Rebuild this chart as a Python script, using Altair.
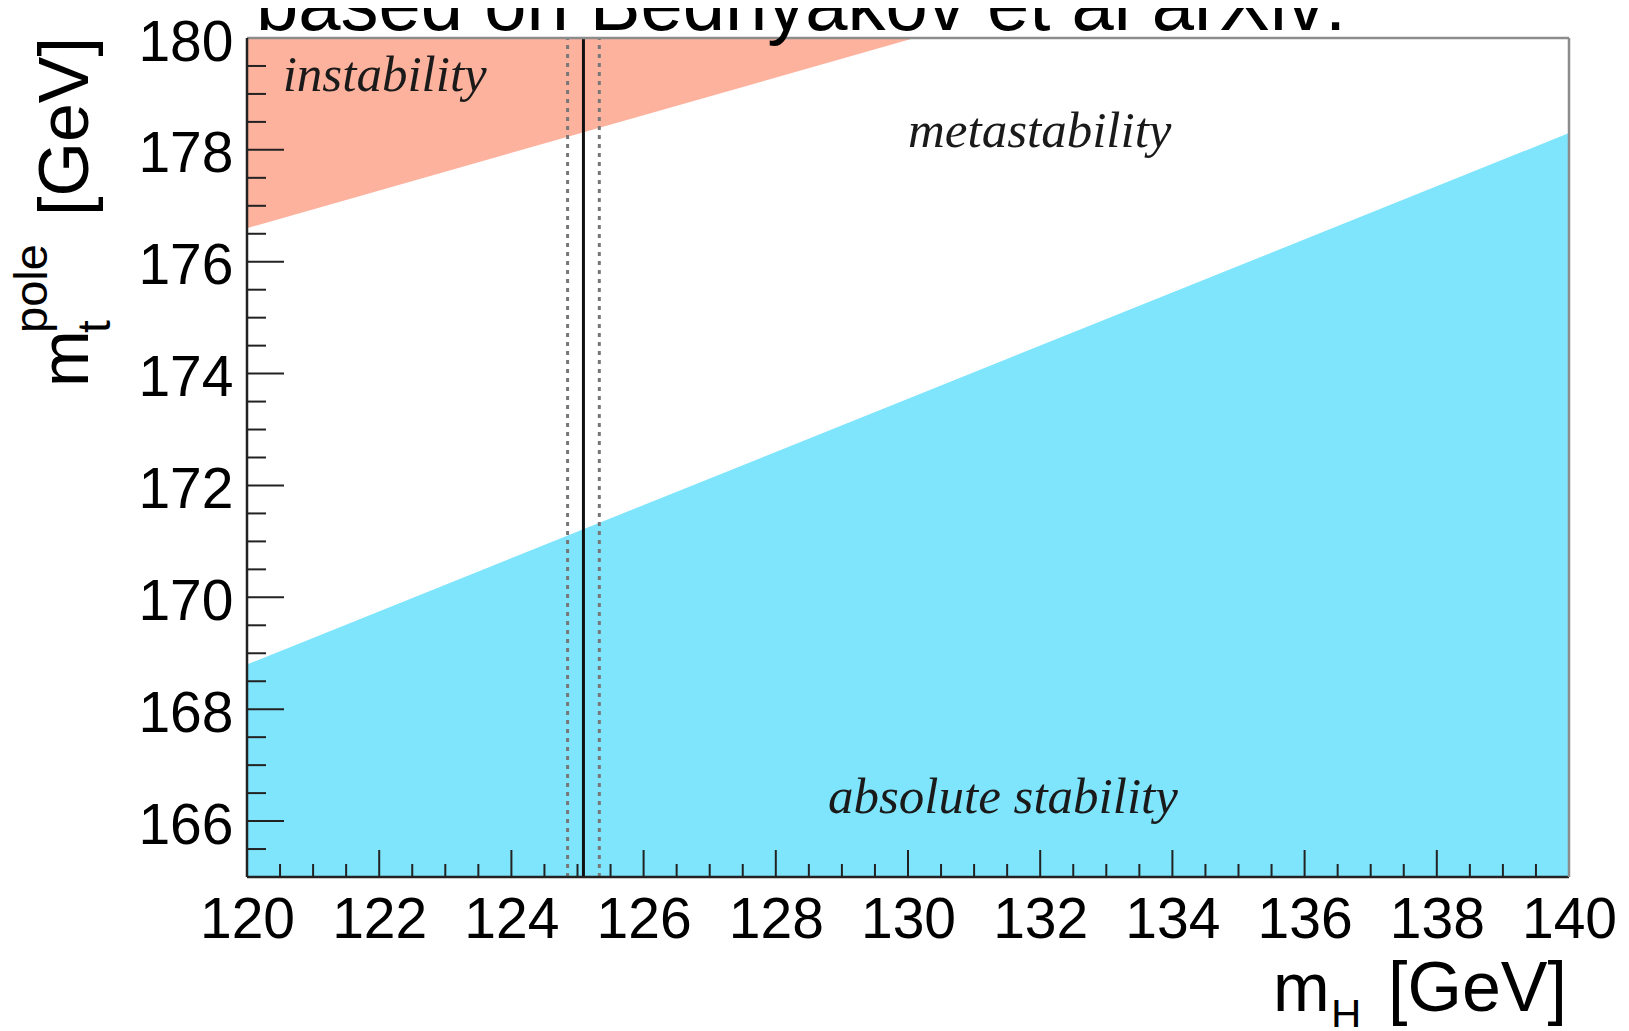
import altair as alt
import pandas as pd

# ---------------- data ----------------
mh_edges = [120.0, 140.0]          # m_H range of the stability boundary
stab_mt = [168.8, 178.3]           # absolute-stability boundary (lower region)
inst_mh = [120.0, 130.1]           # instability boundary reaches the top at ~130.1
inst_mt = [176.6, 180.0]
higgs_central = [125.09]
higgs_band = [124.85, 125.33]

x_major = [120, 122, 124, 126, 128, 130, 132, 134, 136, 138, 140]
y_major = [166, 168, 170, 172, 174, 176, 178, 180]
x_minor = [120 + 0.5 * i for i in range(41) if (i % 4) != 0]
y_minor = [165 + 0.5 * i for i in range(31) if (i % 4) != 2]

X0, X1 = 120, 140
Y0, Y1 = 165, 180
W, H = 1322, 839

SALMON = "#FDB29E"
CYAN = "#7FE5FC"
SANS = "Liberation Sans"
SERIF = "Liberation Serif"

xs = alt.Scale(domain=[X0, X1], nice=False, zero=False)
ys = alt.Scale(domain=[Y0, Y1], nice=False, zero=False)

x_axis = alt.Axis(values=x_major, format="d", labelFont=SANS, labelFontSize=57,
                  labelColor="black", labelPadding=15, ticks=False, domain=False,
                  grid=False, title=None, labelFlush=False, labelOverlap=False,
                  zindex=1)
y_axis = alt.Axis(values=y_major, format="d", labelFont=SANS, labelFontSize=57,
                  labelColor="black", labelPadding=14, labelOffset=5, ticks=False,
                  domain=False, grid=False, title=None, labelFlush=False,
                  labelOverlap=False, zindex=1)

def X(f):
    return alt.X(f, scale=xs, axis=x_axis)

def Y(f):
    return alt.Y(f, scale=ys, axis=y_axis)

stab_df = pd.DataFrame({"mh": mh_edges, "mt": stab_mt, "lo": [Y0] * len(mh_edges)})
inst_df = pd.DataFrame({"mh": inst_mh, "mt": inst_mt, "hi": [Y1] * len(inst_mh)})

stab = alt.Chart(stab_df).mark_area(color=CYAN, opacity=1).encode(
    x=X("mh:Q"), y=Y("mt:Q"), y2="lo:Q")
inst = alt.Chart(inst_df).mark_area(color=SALMON, opacity=1).encode(
    x=X("mh:Q"), y=Y("mt:Q"), y2="hi:Q")

band_df = pd.DataFrame({"mh": higgs_band, "mt": [Y0] * 2, "hi": [Y1] * 2})
band = alt.Chart(band_df).mark_rule(color="#777777", strokeWidth=3,
                                    strokeDash=[4, 5]).encode(
    x=X("mh:Q"), y=Y("mt:Q"), y2="hi:Q")
cen_df = pd.DataFrame({"mh": higgs_central, "mt": [Y0], "hi": [Y1]})
central = alt.Chart(cen_df).mark_rule(color="#111111", strokeWidth=3).encode(
    x=X("mh:Q"), y=Y("mt:Q"), y2="hi:Q")

TICK = "#222222"
def xticks(vals, length):
    return alt.Chart(pd.DataFrame({"mh": vals})).mark_rule(color=TICK, strokeWidth=2).encode(
        x=X("mh:Q"), y=alt.value(H), y2=alt.value(H - length))

def yticks(vals, length):
    return alt.Chart(pd.DataFrame({"mt": vals})).mark_rule(color=TICK, strokeWidth=2).encode(
        y=Y("mt:Q"), x=alt.value(0), x2=alt.value(length))

ticks = [xticks(x_major, 27), xticks(x_minor, 13), yticks(y_major, 37), yticks(y_minor, 19)]

# frame
frame_h = pd.DataFrame({"mh": [X0, X0], "b": [X1, X1], "mt": [Y1, Y0],
                        "c": ["#8c8c8c", "#222222"]})
frame_v = pd.DataFrame({"mh": [X1, X0], "mt": [Y0, Y0], "b": [Y1, Y1],
                        "c": ["#8c8c8c", "#222222"]})
fh = alt.Chart(frame_h).mark_rule(strokeWidth=2.5).encode(
    x=X("mh:Q"), x2="b:Q", y=Y("mt:Q"), color=alt.Color("c:N", scale=None))
fv = alt.Chart(frame_v).mark_rule(strokeWidth=2.5).encode(
    x=X("mh:Q"), y=Y("mt:Q"), y2="b:Q", color=alt.Color("c:N", scale=None))

# region labels
lab_df = pd.DataFrame({
    "mh": [120.54, 130.0, 128.79],
    "mt": [179.05, 178.05, 166.14],
    "t": ["instability", "metastability", "absolute stability"],
})
labels = alt.Chart(lab_df).mark_text(font=SERIF, fontStyle="italic", fontSize=51,
                                     color="#1a1a1a", align="left",
                                     baseline="alphabetic").encode(
    x=X("mh:Q"), y=Y("mt:Q"), text="t:N")

one = pd.DataFrame({"k": [0]})
def txt(s, x, y, size, angle=0, align="left"):
    kw = dict(font=SANS, fontSize=size, color="black", align=align,
              baseline="alphabetic", text=s)
    if angle:
        kw["angle"] = angle
    return alt.Chart(one).mark_text(**kw).encode(x=alt.value(x), y=alt.value(y))

texts = [
    txt("based on Bednyakov et al arXiv:", 9, -8, 76),
    # x title: m_H [GeV]
    txt("m", 1026, 973, 68),
    txt("H", 1084, 991, 42),
    txt("[GeV]", 1320, 973, 70, align="right"),
    # y title: m_t^pole [GeV]
    txt("m", -159, 349, 68, angle=270),
    txt("t", -137, 295, 46, angle=270),
    txt("pole", -200, 295, 47, angle=270),
    txt("[GeV]", -159, -1, 70, angle=270, align="right"),
]

chart = alt.layer(stab, inst, band, central, *ticks, fh, fv, labels, *texts).properties(
    width=W, height=H,
    padding={"left": 239, "top": 30, "right": 52, "bottom": 150},
    autosize=alt.AutoSizeParams(type="none"),
).configure_view(stroke=None)

chart.save("out.html", embed_options={"renderer": "svg", "actions": False})
